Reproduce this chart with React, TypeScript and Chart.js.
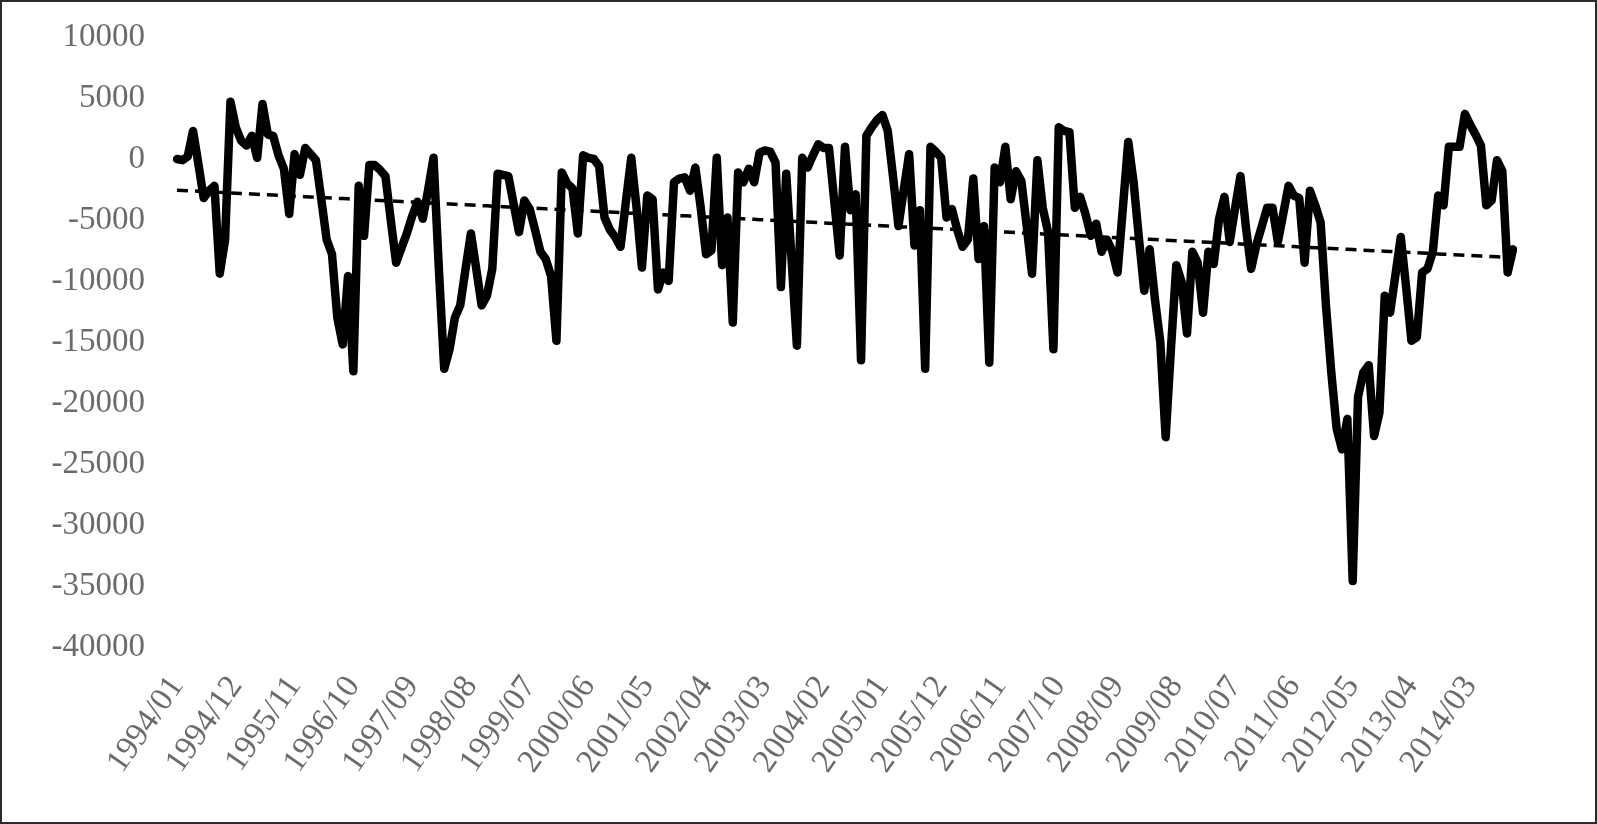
import React, { useEffect, useRef } from "react";
import { Chart, registerables } from "chart.js";

Chart.register(...registerables);

// Monthly values, 1994/01 onwards
const VALUES: number[] = [
  0, -100, 200, 2300, -400, -3200, -2600, -2200, -9400, -6600,
  4700, 2600, 1500, 1100, 1900, 100, 4500, 2000, 1900, 300,
  -800, -4500, 400, -1300, 900, 400, -100, -3300, -6600, -7800,
  -13000, -15200, -9600, -17400, -2200, -6300, -500, -500, -900, -1400,
  -5000, -8500, -7300, -6100, -4700, -3500, -4900, -2500, 100, -9000,
  -17200, -15600, -13000, -12000, -9000, -6100, -9000, -12000, -11200, -9000,
  -1200, -1300, -1400, -3700, -6000, -3400, -4100, -5800, -7600, -8200,
  -9600, -14900, -1100, -2000, -2400, -6100, 300, 100, 0, -600,
  -4800, -5800, -6400, -7200, -3500, 100, -4000, -8900, -3000, -3300,
  -10700, -9300, -10000, -1900, -1600, -1500, -2600, -700, -4000, -7800,
  -7500, 100, -8700, -4800, -13400, -1100, -1900, -800, -1900, 500,
  700, 600, -300, -10500, -1200, -8200, -15300, 100, -700, 300,
  1200, 900, 900, -3500, -7900, 1000, -4200, -2900, -16500, 1900,
  2600, 3200, 3600, 2300, -1500, -5500, -2500, 400, -7100, -4200,
  -17200, 1000, 600, 100, -4800, -4100, -5800, -7200, -6600, -1600,
  -8200, -5500, -16700, -700, -1900, 1000, -3300, -1000, -1800, -5500,
  -9400, -100, -4000, -6000, -15600, 2600, 2300, 2200, -4000, -3100,
  -4500, -6300, -5300, -7600, -6600, -7500, -9300, -4000, 1400, -1900,
  -6500, -10800, -7400, -11500, -15000, -22800, -15500, -8700, -10100, -14300,
  -7600, -8500, -12600, -7600, -8600, -4900, -3100, -6800, -4000, -1400,
  -5500, -9000, -7000, -5500, -4000, -4000, -6800, -4500, -2200, -3000,
  -3200, -8500, -2600, -3800, -5200, -12000, -17500, -22100, -23800, -21300,
  -34600, -19500, -17500, -16900, -22700, -20800, -11200, -12600, -9500, -6400,
  -10500, -14900, -14600, -9300, -9000, -7600, -3000, -3800, 1000, 1000,
  1000, 3700, 2800, 2000, 1100, -3800, -3400, -100, -1000, -9300,
  -7400,
];

const START_YEAR = 1994;
const START_MONTH = 1;

const CATEGORIES: string[] = VALUES.map((_, i) => {
  const m0 = START_MONTH - 1 + i;
  const y = START_YEAR + Math.floor(m0 / 12);
  const m = (m0 % 12) + 1;
  return `${y}/${String(m).padStart(2, "0")}`;
});

const TICK_LABELS: string[] = [
  "1994/01", "1994/12", "1995/11", "1996/10", "1997/09", "1998/08",
  "1999/07", "2000/06", "2001/05", "2002/04", "2003/03", "2004/02",
  "2005/01", "2005/12", "2006/11", "2007/10", "2008/09", "2009/08",
  "2010/07", "2011/06", "2012/05", "2013/04", "2014/03",
];

const Y_MIN = -40000;
const Y_MAX = 10000;
const Y_STEP = 5000;

function linearTrend(values: number[]): number[] {
  const n = values.length;
  let sx = 0, sy = 0, sxx = 0, sxy = 0;
  values.forEach((v, i) => {
    const x = i + 1;
    sx += x; sy += v; sxx += x * x; sxy += x * v;
  });
  const slope = (n * sxy - sx * sy) / (n * sxx - sx * sx);
  const intercept = (sy - slope * sx) / n;
  return values.map((_, i) => intercept + slope * (i + 1));
}

const TEXT_COLOR = "#6b6b6b";
const FONT = { family: "'Liberation Serif', 'DejaVu Serif', serif", size: 33 };

const framePlugin = {
  id: "frame",
  afterDraw(chart: any) {
    const ctx = chart.ctx;
    ctx.save();
    ctx.strokeStyle = "#2a2a2a";
    ctx.lineWidth = 2;
    ctx.strokeRect(1, 1, chart.width - 2, chart.height - 2);
    ctx.restore();
  },
};

export default function App() {
  const ref = useRef<HTMLCanvasElement | null>(null);

  useEffect(() => {
    document.body.style.margin = "0";
    document.body.style.overflow = "hidden";
    const canvas = ref.current;
    if (!canvas) return;
    const tickSet = new Set(TICK_LABELS);
    const chart = new Chart(canvas, {
      type: "line",
      data: {
        labels: CATEGORIES,
        datasets: [
          {
            data: VALUES,
            borderColor: "#000000",
            borderWidth: 8.5,
            pointRadius: 0,
            tension: 0,
            borderJoinStyle: "round",
            borderCapStyle: "round",
            fill: false,
          },
          {
            data: linearTrend(VALUES),
            borderColor: "#000000",
            borderWidth: 3.5,
            borderDash: [11, 7],
            pointRadius: 0,
            tension: 0,
            fill: false,
          },
        ],
      },
      options: {
        animation: false,
        responsive: false,
        devicePixelRatio: 1,
        layout: { padding: { top: 37, right: 84, left: 0, bottom: 0 } },
        plugins: { legend: { display: false }, tooltip: { enabled: false } },
        scales: {
          x: {
            type: "category",
            offset: false,
            grid: { display: false, drawTicks: false },
            border: { display: false },
            ticks: {
              autoSkip: false,
              minRotation: 55,
              maxRotation: 55,
              padding: 22,
              color: TEXT_COLOR,
              font: FONT,
              callback: (_v: any, idx: number) =>
                tickSet.has(CATEGORIES[idx]) ? CATEGORIES[idx] : "",
            },
            afterFit: (s: any) => {
              s.height = 824 - 647;
              s.paddingLeft = 0;
              s.paddingRight = 0;
            },
          },
          y: {
            min: Y_MIN,
            max: Y_MAX,
            grid: { display: false, drawTicks: false },
            border: { display: false },
            ticks: {
              stepSize: Y_STEP,
              padding: 32,
              color: TEXT_COLOR,
              font: FONT,
              callback: (v: any) => String(v),
            },
            afterFit: (s: any) => {
              s.width = 177;
              s.paddingTop = 0;
              s.paddingBottom = 0;
            },
          },
        },
      },
      plugins: [framePlugin],
    } as any);
    return () => chart.destroy();
  }, []);

  return (
    <div style={{ width: 1597, height: 824, position: "relative", background: "#fff" }}>
      <canvas ref={ref} width={1597} height={824} style={{ display: "block" }} />
    </div>
  );
}
